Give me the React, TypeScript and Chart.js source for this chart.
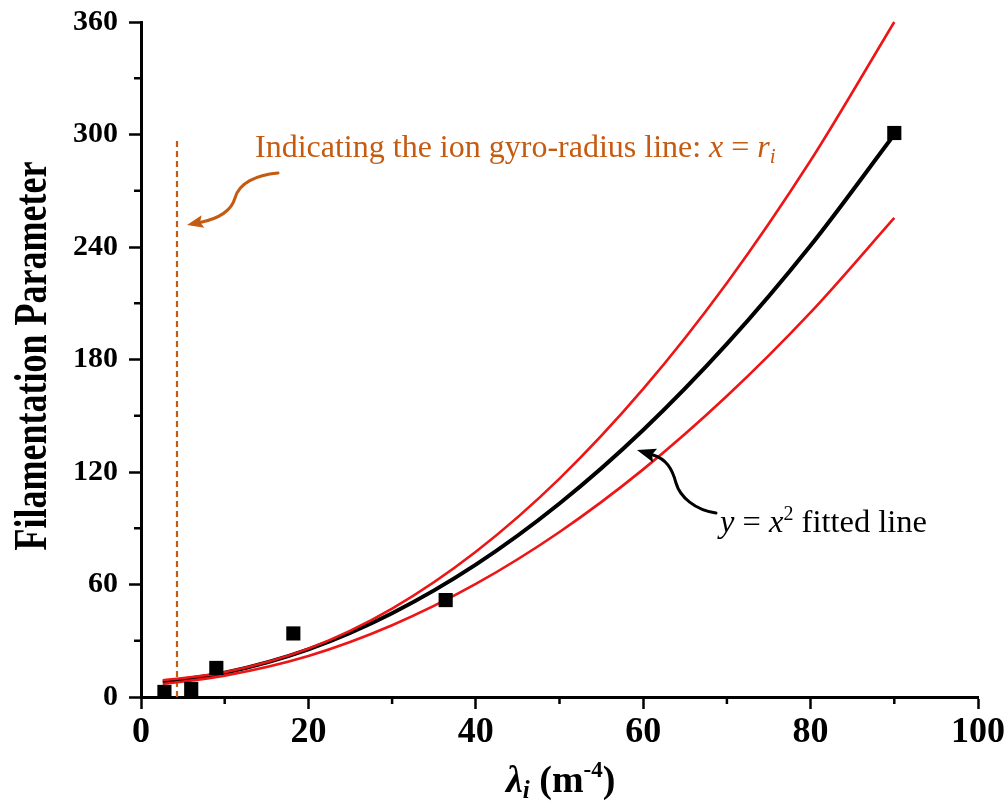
import React, { useEffect, useRef } from "react";
import { Chart, registerables } from "chart.js";

Chart.register(...registerables);

// ---- data ----
const pointX = [2.8, 6.0, 9.0, 18.2, 36.4, 90.0];
const pointY = [2.7, 4.3, 15.5, 33.9, 51.7, 300.8];

const fitX = [2.6, 10, 20, 30, 40, 50, 60, 70, 80, 90];
const fitY = [7.8, 12.9, 25.4, 44.7, 70.6, 103.2, 142.4, 188.3, 240.8, 300];
const upperY = [8.9, 13.2, 25.8, 47.2, 77.5, 116.5, 164.3, 220.8, 286.1, 360];
const lowerY = [6.9, 11.4, 21.9, 38.3, 60.3, 88.0, 121.4, 160.5, 205.1, 255.5];

const gyroX = [4.3, 4.3];
const gyroY = [0, 298.5];

const xMajor = [0, 20, 40, 60, 80, 100];
const yMajor = [0, 60, 120, 180, 240, 300, 360];

const SERIF = '"Liberation Serif", "Times New Roman", serif';
const ORANGE = "#C55A11";
const RED = "rgb(236,22,22)";

type Run = { t: string; font: string; dy?: number };

function drawRuns(ctx: CanvasRenderingContext2D, runs: Run[], x: number, y: number, color: string) {
  ctx.save();
  ctx.fillStyle = color;
  ctx.textBaseline = "alphabetic";
  ctx.textAlign = "left";
  let cx = x;
  for (const r of runs) {
    ctx.font = r.font;
    ctx.fillText(r.t, cx, y + (r.dy || 0));
    cx += ctx.measureText(r.t).width;
  }
  ctx.restore();
}

function arrowHead(ctx: CanvasRenderingContext2D, tipX: number, tipY: number, fromX: number, fromY: number, half: number, color: string) {
  const dx = tipX - fromX;
  const dy = tipY - fromY;
  const len = Math.hypot(dx, dy);
  const ux = dx / len;
  const uy = dy / len;
  const px = -uy;
  const py = ux;
  ctx.save();
  ctx.fillStyle = color;
  ctx.beginPath();
  ctx.moveTo(tipX, tipY);
  ctx.lineTo(fromX + px * half, fromY + py * half);
  ctx.lineTo(fromX + ux * 3, fromY + uy * 3);
  ctx.lineTo(fromX - px * half, fromY - py * half);
  ctx.closePath();
  ctx.fill();
  ctx.restore();
}

const decorPlugin = {
  id: "decor",
  afterDraw(chart: any) {
    const ctx: CanvasRenderingContext2D = chart.ctx;
    const xs = chart.scales.x;
    const ys = chart.scales.y;
    const area = chart.chartArea;

    // minor ticks
    ctx.save();
    ctx.strokeStyle = "#000";
    ctx.lineWidth = 2.5;
    ctx.beginPath();
    for (let v = 10; v < 100; v += 20) {
      const px = xs.getPixelForValue(v);
      ctx.moveTo(px, area.bottom);
      ctx.lineTo(px, area.bottom + 7);
    }
    for (let v = 30; v < 360; v += 60) {
      const py = ys.getPixelForValue(v);
      ctx.moveTo(area.left, py);
      ctx.lineTo(area.left - 7, py);
    }
    ctx.stroke();
    ctx.restore();

    // y axis title (condensed look)
    ctx.save();
    ctx.translate(34, 356);
    ctx.rotate(-Math.PI / 2);
    ctx.scale(1, 1.3);
    ctx.font = `bold 36px ${SERIF}`;
    ctx.fillStyle = "#000";
    ctx.textAlign = "center";
    ctx.textBaseline = "middle";
    ctx.fillText("Filamentation Parameter", 0, 0);
    ctx.restore();

    // x axis title
    drawRuns(
      ctx,
      [
        { t: "\u03bb", font: `bold italic 38px ${SERIF}` },
        { t: "i", font: `bold italic 25px ${SERIF}`, dy: 6 },
        { t: " (m", font: `bold 38px ${SERIF}` },
        { t: "-4", font: `bold 23px ${SERIF}`, dy: -15 },
        { t: ")", font: `bold 38px ${SERIF}` },
      ],
      506,
      792,
      "#000"
    );

    // orange annotation
    drawRuns(
      ctx,
      [
        { t: "Indicating the ion gyro-radius line: ", font: `32px ${SERIF}` },
        { t: "x", font: `italic 32px ${SERIF}` },
        { t: " = ", font: `32px ${SERIF}` },
        { t: "r", font: `italic 32px ${SERIF}` },
        { t: "i", font: `italic 21px ${SERIF}`, dy: 6 },
      ],
      255,
      157,
      ORANGE
    );
    ctx.save();
    ctx.strokeStyle = ORANGE;
    ctx.lineWidth = 3;
    ctx.lineCap = "round";
    ctx.beginPath();
    ctx.moveTo(278, 173);
    ctx.bezierCurveTo(256, 175, 239, 183, 235, 198);
    ctx.bezierCurveTo(231, 212, 217, 219, 200, 222.5);
    ctx.stroke();
    ctx.restore();
    arrowHead(ctx, 187, 225, 203, 221.5, 6.5, ORANGE);

    // black annotation
    drawRuns(
      ctx,
      [
        { t: "y", font: `italic 32.5px ${SERIF}` },
        { t: " = ", font: `32.5px ${SERIF}` },
        { t: "x", font: `italic 32.5px ${SERIF}` },
        { t: "2", font: `20px ${SERIF}`, dy: -12 },
        { t: " fitted line", font: `32.5px ${SERIF}` },
      ],
      720,
      532,
      "#000"
    );
    ctx.save();
    ctx.strokeStyle = "#000";
    ctx.lineWidth = 3;
    ctx.lineCap = "round";
    ctx.beginPath();
    ctx.moveTo(716, 513);
    ctx.bezierCurveTo(695, 510, 680, 497, 676, 483);
    ctx.bezierCurveTo(672, 468, 666, 459, 653, 455);
    ctx.stroke();
    ctx.restore();
    arrowHead(ctx, 637, 450, 655, 455.5, 7, "#000");
  },
};

export default function App() {
  const ref = useRef<HTMLCanvasElement | null>(null);

  useEffect(() => {
    if (!ref.current) return;
    const xy = (xsArr: number[], ysArr: number[]) => xsArr.map((x, i) => ({ x, y: ysArr[i] }));
    const chart = new Chart(ref.current, {
      type: "scatter",
      data: {
        datasets: [
          {
            label: "data",
            data: xy(pointX, pointY),
            pointStyle: "rect",
            pointRadius: 10,
            pointHoverRadius: 10,
            backgroundColor: "#000",
            borderColor: "#000",
            borderWidth: 0,
            showLine: false,
            order: 0,
            clip: false,
          },
          {
            label: "upper",
            data: xy(fitX, upperY),
            showLine: true,
            borderColor: RED,
            borderWidth: 2.6,
            pointRadius: 0,
            cubicInterpolationMode: "monotone",
            order: 1,
            clip: false,
          },
          {
            label: "lower",
            data: xy(fitX, lowerY),
            showLine: true,
            borderColor: RED,
            borderWidth: 2.6,
            pointRadius: 0,
            cubicInterpolationMode: "monotone",
            order: 1,
            clip: false,
          },
          {
            label: "fit",
            data: xy(fitX, fitY),
            showLine: true,
            borderColor: "#000",
            borderWidth: 4,
            pointRadius: 0,
            cubicInterpolationMode: "monotone",
            order: 2,
            clip: false,
          },
          {
            label: "gyro",
            data: xy(gyroX, gyroY),
            showLine: true,
            borderColor: ORANGE,
            borderWidth: 2.2,
            borderDash: [6, 4],
            pointRadius: 0,
            order: 3,
            clip: false,
          },
        ],
      },
      options: {
        animation: false,
        responsive: false,
        maintainAspectRatio: false,
        layout: { padding: { top: 22, right: 30, left: 0, bottom: 0 } },
        plugins: { legend: { display: false }, tooltip: { enabled: false }, title: { display: false } },
        scales: {
          x: {
            type: "linear",
            min: 0,
            max: 100,
            afterFit: (s: any) => {
              s.height = 113;
              s.paddingLeft = 0;
              s.paddingRight = 0;
            },
            border: { display: true, color: "#000", width: 3 },
            grid: {
              drawOnChartArea: false,
              drawTicks: true,
              tickLength: 12,
              tickWidth: 2.5,
              tickColor: (c: any) => (xMajor.includes(c.tick?.value) ? "#000" : "rgba(0,0,0,0)"),
            },
            ticks: {
              stepSize: 10,
              padding: 2,
              color: "#000",
              font: { family: SERIF, size: 36, weight: "bold" },
              maxRotation: 0,
              autoSkip: false,
              callback: (v: any) => (xMajor.includes(Number(v)) ? String(v) : ""),
            },
          },
          y: {
            type: "linear",
            min: 0,
            max: 360,
            afterFit: (s: any) => {
              s.width = 141;
              s.paddingTop = 0;
              s.paddingBottom = 0;
            },
            border: { display: true, color: "#000", width: 3 },
            grid: {
              drawOnChartArea: false,
              drawTicks: true,
              tickLength: 12,
              tickWidth: 2.5,
              tickColor: (c: any) => (yMajor.includes(c.tick?.value) ? "#000" : "rgba(0,0,0,0)"),
            },
            ticks: {
              stepSize: 30,
              padding: 11,
              color: "#000",
              font: { family: SERIF, size: 30, weight: "bold" },
              autoSkip: false,
              callback: (v: any) => (yMajor.includes(Number(v)) ? String(v) : ""),
            },
          },
        },
      },
      plugins: [decorPlugin],
    } as any);
    return () => chart.destroy();
  }, []);

  return (
    <div style={{ position: "fixed", left: 0, top: 0, width: 1008, height: 810, background: "#fff" }}>
      <canvas ref={ref} width={1008} height={810} style={{ width: 1008, height: 810, display: "block" }} />
    </div>
  );
}
